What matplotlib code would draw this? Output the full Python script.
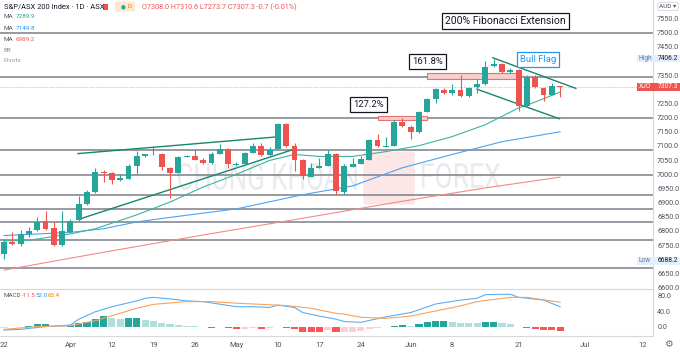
import numpy as np
import matplotlib.pyplot as plt
from matplotlib.patches import Rectangle, FancyBboxPatch, PathPatch
from matplotlib.textpath import TextPath
from matplotlib.font_manager import FontProperties
from matplotlib.transforms import Affine2D

plt.rcParams['font.family'] = ['Roboto', 'DejaVu Sans']

# daily candles, 22 Mar - 28 Jun (trading days, index = bar number)
opens = [6720, 6762, 6755, 6789, 6802, 6835, 6810, 6749, 6798, 6840,
         6895, 6936, 7008, 7003, 6981, 6985, 7029, 7064, 7070, 7073,
         7023, 7003, 7062, 7066, 7052, 7041, 7070, 7090, 7034, 7035,
         7076, 7101, 7067, 7090, 7178, 7101, 7052, 6992, 7023, 7031,
         7072, 6939, 7027, 7037, 7052, 7122, 7097, 7101, 7186, 7167,
         7148, 7221, 7265, 7297, 7288, 7297, 7276, 7307, 7318, 7381,
         7388, 7361, 7369, 7241, 7344, 7303, 7280, 7308.0]
highs = [6773, 6797, 6804, 6815, 6850, 6872, 6833, 6871, 6843, 6924,
         6945, 7021, 7015, 7008, 7000, 7035, 7081, 7072, 7099, 7075,
         7025, 7064, 7068, 7084, 7058, 7078, 7107, 7093, 7042, 7080,
         7111, 7111, 7097, 7180, 7180, 7111, 7055, 7041, 7058, 7087,
         7074, 7035, 7058, 7064, 7124, 7143, 7132, 7190, 7198, 7175,
         7223, 7268, 7303, 7303, 7318, 7350, 7309, 7335, 7400, 7406.2,
         7392, 7375, 7373, 7350, 7350, 7306, 7321, 7310.6]
lows = [6700, 6752, 6748, 6780, 6800, 6802, 6748, 6748, 6797, 6837,
        6893, 6935, 6973, 6965, 6977, 6985, 7000, 7062, 7067, 7015,
        6916, 7003, 7060, 7049, 7038, 7038, 7070, 7023, 7030, 7035,
        7074, 7064, 7066, 7088, 7098, 7011, 6983, 6990, 7021, 7030,
        6930, 6930, 7025, 7035, 7050, 7097, 7095, 7100, 7167, 7125,
        7146, 7219, 7251, 7283, 7280, 7274, 7274, 7287, 7316, 7379,
        7357, 7357, 7225, 7239, 7305, 7260, 7278, 7273.7]
closes = [6762, 6755, 6788, 6801, 6833, 6808, 6749, 6800, 6837, 6895,
          6938, 7008, 7003, 6980, 6986, 7029, 7064, 7070, 7073, 7025,
          7006, 7062, 7066, 7052, 7041, 7072, 7090, 7035, 7038, 7076,
          7101, 7067, 7087, 7178, 7101, 7052, 6995, 7023, 7031, 7072,
          6942, 7029, 7037, 7055, 7122, 7099, 7101, 7186, 7169, 7148,
          7221, 7265, 7300, 7286, 7297, 7276, 7305, 7319, 7379, 7388,
          7361, 7369, 7241, 7344, 7309, 7280, 7312, 7307.3]

date_ticks = [0, 8, 13, 18, 23, 28, 33, 38, 43, 49, 54, 62, 70, 77]
date_labels = ['22', 'Apr', '12', '19', '26', 'May', '10', '17', '24', 'Jun', '8', '21', 'Jul', '12']

# moving averages
ma20_idx = [0, 3, 8, 11, 16, 20, 24, 28, 32, 35, 38, 42, 46, 50, 54, 58, 62, 64, 67]
ma20_val = [6765, 6767, 6790, 6808, 6857, 6902, 6955, 7000, 7049, 7070, 7063, 7063,
            7080, 7101, 7133, 7175, 7234, 7255, 7290]
ma50_idx = [0, 8, 12, 16, 20, 28, 36, 42, 48, 54, 60, 67]
ma50_val = [6784, 6795, 6808, 6832, 6848, 6878, 6928, 6959, 7023, 7070, 7115, 7150]
ma100_idx = [0, 12, 24, 36, 48, 58, 67]
ma100_val = [6662, 6725, 6786, 6845, 6905, 6952, 6990]

# fibonacci extension levels (0% .. 200%)
fib_levels = [7500, 7342, 7198, 7086, 6997, 6927, 6878, 6830, 6769, 6671]

# drawn trendlines (bar index, price)
trend_upper = ([8.9, 32.9], [7073, 7132])
trend_lower = ([9.4, 34.8], [6845, 7087])
flag_upper = ([58.9, 68.9], [7411, 7303])
flag_lower = ([57.0, 66.9], [7300, 7196])

# MACD
macd_idx = [0, 2, 5, 8, 9, 11, 13, 16, 17, 18, 20, 22, 24, 28, 30, 32, 33, 35, 36, 38,
            40, 41, 43, 46, 49, 52, 55, 57, 58, 61, 62, 65, 67]
macd_val = [-8, -6, 1, 5, 20, 39, 52, 67, 73.5, 76, 72, 67, 65, 52, 52, 50, 56, 50, 37, 28,
            20, 14, 12, 26, 37, 59, 69, 73.5, 83, 84, 76, 69, 52.0]
signal_idx = [0, 4, 8, 11, 13, 16, 18, 22, 25, 28, 32, 34, 37, 40, 41, 43, 46, 49, 52, 55,
              57, 61, 63, 67]
signal_val = [-6, 1, 3.5, 16, 29, 48, 58, 65, 65, 61, 57, 55, 48, 35, 33, 25, 22, 28, 41, 54,
              65, 76, 76, 63.4]
hist = [-2, -1, 0.5, 3, 7, 7.5, 2, 2, 4, 10, 14, 21, 27, 22, 21, 22, 23, 18, 16, 11,
        7, 5, 3, 2, 0.5, -2, -1, -3, -5, -4, -3, -4, -3, -1, -2, -5, -12, -12.5, -14, -8,
        -14, -13, -12, -9, -6, -3, -1, 2, 4, 3, 7, 12, 16, 16.5, 13, 11, 10, 9, 13, 13.5,
        9, 7, -1, -2, -4, -8, -8.5, -11.5]

W, H = 680, 353
GREEN, RED = '#26a69a', '#ef5350'
TXT = '#50535e'


def fx(px):
    return px / W


def fy(py):
    return 1 - py / H


fig = plt.figure(figsize=(W / 100, H / 100), dpi=100)
ax = fig.add_axes([0, fy(289), fx(653), 289 / H])
axm = fig.add_axes([0, fy(336), fx(653), 47 / H])

# watermark
def watermark(s, x0, x1, ytop, ybot):
    tp = TextPath((0, 0), s, size=1, prop=FontProperties(family='Roboto'))
    bb = tp.get_extents()
    tr = Affine2D().translate(-bb.x0, -bb.y0).scale(
        (x1 - x0) / W / bb.width, (ybot - ytop) / H / bb.height).translate(x0 / W, fy(ybot))
    ax.add_patch(PathPatch(tp, transform=tr + fig.transFigure, fc='#eaeaed', ec='none', zorder=0.5))


watermark('CHUNG KHOAN', 178, 357, 163, 190)
watermark('FOREX', 422, 500, 163, 188)
ax.add_patch(FancyBboxPatch((fx(366), fy(203)), fx(46), 50 / H, boxstyle='round,pad=0.004',
                            transform=fig.transFigure, fc='#fce6e6', ec='none', zorder=0.5))

# fib levels and current price
for lv in fib_levels:
    ax.axhline(lv, color='#7b7e88', lw=1.1, zorder=1)
ax.axhline(closes[-1], color=RED, lw=0.5, ls=(0, (1, 1.5)), alpha=0.8, zorder=1)

ax.add_patch(Rectangle((45.0, 7192), 6.0, 14, fc='#f8cfcf', ec='#e57373', lw=0.8, zorder=1.5))
ax.add_patch(Rectangle((51.0, 7335), 11.0, 21, fc='#f8cfcf', ec='#e57373', lw=0.8, zorder=1.5))

# moving averages
ax.plot(ma100_idx, ma100_val, color='#f28b86', lw=0.8, zorder=2)
ax.plot(ma50_idx, ma50_val, color='#4aa3f0', lw=0.8, zorder=2)
ax.plot(ma20_idx, ma20_val, color='#3db39e', lw=0.8, zorder=2)

# trendlines
for xs, ys in [trend_upper, trend_lower, flag_upper, flag_lower]:
    ax.plot(xs, ys, color='#17876a', lw=1.0, zorder=2.5)

# candles
idx = np.arange(len(closes))
for i in idx:
    o, c = opens[i], closes[i]
    col = GREEN if c >= o else RED
    ax.vlines(i, lows[i], highs[i], color=col, lw=0.8, zorder=3)
    ax.bar(i, max(abs(c - o), 2.5), bottom=min(o, c), width=0.7, color=col, zorder=3.5)

ax.set_xlim(-4 / 8.3, 649 / 8.3)
ax.set_ylim(6595.4, 7614.8)
ax.set_xticks([])
ax.yaxis.tick_right()
# 6700, 7300 and 7400 sit under the Low / XJO / High markers
price_ticks = [v for v in range(6600, 7551, 50) if v not in (6700, 7300, 7400)]
ax.set_yticks(price_ticks)
ax.set_yticklabels(['%.1f' % v for v in price_ticks])
ax.tick_params(axis='y', length=0, pad=3, labelsize=5.2, labelcolor=TXT)
for s in ['top', 'left', 'bottom']:
    ax.spines[s].set_visible(False)
ax.spines['right'].set_color('#d6d8de')
ax.spines['right'].set_linewidth(0.8)

# MACD pane
hcols = []
for i, h in enumerate(hist):
    prev = hist[i - 1] if i > 0 else h
    if h >= 0:
        hcols.append('#26a69a' if h > prev else '#b2dfdb')
    else:
        hcols.append('#ff5252' if h < prev else '#ffcdd2')
axm.bar(idx, hist, width=0.85, color=hcols, zorder=2)
axm.plot(macd_idx, macd_val, color='#5aaef5', lw=0.8, zorder=3)
axm.plot(signal_idx, signal_val, color='#f7a35c', lw=0.8, zorder=3)
axm.set_xlim(-4 / 8.3, 649 / 8.3)
axm.set_ylim(-23.1, 97.4)
axm.yaxis.tick_right()
axm.set_yticks([0, 40, 80])
axm.set_yticklabels(['0.0', '40.0', '80.0'])
axm.set_xticks(date_ticks)
axm.set_xticklabels(date_labels)
axm.tick_params(axis='y', length=0, pad=3, labelsize=5.2, labelcolor=TXT)
axm.tick_params(axis='x', length=0, pad=4, labelsize=5.5, labelcolor=TXT)
axm.spines['left'].set_visible(False)
for s in ['top', 'right', 'bottom']:
    axm.spines[s].set_color('#d6d8de')
    axm.spines[s].set_linewidth(0.8)

# annotations
box = dict(boxstyle='square,pad=0.3', fc='white', ec='#131722', lw=0.9)
fig.text(fx(505.5), fy(21), '200% Fibonacci Extension', fontsize=7.5, color='#131722',
         ha='center', va='center', bbox=box)
fig.text(fx(427.5), fy(61.5), '161.8%', fontsize=6.8, color='#131722', ha='center', va='center', bbox=box)
fig.text(fx(368.5), fy(104.5), '127.2%', fontsize=6.8, color='#131722', ha='center', va='center', bbox=box)
fig.text(fx(538.3), fy(59.2), 'Bull Flag', fontsize=6.8, color='#2196f3', ha='center', va='center',
         bbox=dict(boxstyle='square,pad=0.3', fc='white', ec='#2196f3', lw=0.9))

# header legend
fig.text(fx(4), fy(7), 'S&P/ASX 200 Index · 1D · ASX', fontsize=5.4, color='#131722', va='center')
fig.add_artist(Rectangle((fx(103), fy(9.5)), fx(5), 6 / H, transform=fig.transFigure, fc=RED, ec='none'))
fig.add_artist(FancyBboxPatch((fx(117), fy(10.5)), fx(16), 8 / H, boxstyle='round,pad=0.003',
                              transform=fig.transFigure, fc='#fde9cf', ec='none'))
fig.text(fx(121), fy(6.5), '●', fontsize=4, color=GREEN, va='center', family='DejaVu Sans')
fig.text(fx(127), fy(6.5), 'D', fontsize=4.6, color='#f57c00', va='center')
fig.text(fx(142), fy(7), 'O7308.0 H7310.6 L7273.7 C7307.3 -0.7 (-0.01%)', fontsize=5.2,
         color=RED, va='center')
for yy, val, col in [(17, '7289.9', '#26a69a'), (28.5, '7149.8', '#2196f3'), (39.5, '6989.2', RED)]:
    fig.text(fx(4), fy(yy), 'MA', fontsize=4.6, color=TXT, va='center')
    fig.text(fx(16), fy(yy), val, fontsize=4.6, color=col, va='center')
fig.text(fx(4), fy(50), 'BB', fontsize=4.6, color='#9598a1', va='center')
fig.text(fx(4), fy(61), 'Pivots', fontsize=4.6, color='#9598a1', va='center')

# MACD legend
fig.text(fx(4), fy(295.5), 'MACD', fontsize=4.5, color=TXT, va='center')
fig.text(fx(21.5), fy(295.5), '-11.5', fontsize=4.5, color=RED, va='center')
fig.text(fx(35.5), fy(295.5), '52.0', fontsize=4.5, color='#2196f3', va='center')
fig.text(fx(47.5), fy(295.5), '63.4', fontsize=4.5, color='#f57c00', va='center')

# price scale labels
def scale_label(yc, name, val, fc, tc, nc):
    fig.add_artist(Rectangle((fx(637), fy(yc + 3.6)), fx(43), 7.2 / H, transform=fig.transFigure,
                             fc=fc, ec='none', zorder=5))
    fig.text(fx(645), fy(yc), name, fontsize=4.8, color=nc, ha='center', va='center', zorder=6)
    fig.text(fx(668), fy(yc), val, fontsize=4.8, color=tc, ha='center', va='center', zorder=6)


scale_label(58.6, 'High', '7406.2', '#e3effc', '#131722', '#5b7fb5')
scale_label(87.0, 'XJO', '7307.3', RED, 'white', 'white')
scale_label(261.0, 'Low', '6688.2', '#e3effc', '#131722', '#5b7fb5')

fig.text(fx(668), fy(6.3), 'AUD ▾', fontsize=4.6, color=TXT, ha='center', va='center',
         family=['Roboto', 'DejaVu Sans'],
         bbox=dict(boxstyle='round,pad=0.25', fc='white', ec='#d1d4dc', lw=0.6))
fig.text(fx(668), fy(344), '⚙', fontsize=7, color='#6a6d78', ha='center', va='center',
         family='DejaVu Sans')

fig.savefig('out.png', dpi=100)
